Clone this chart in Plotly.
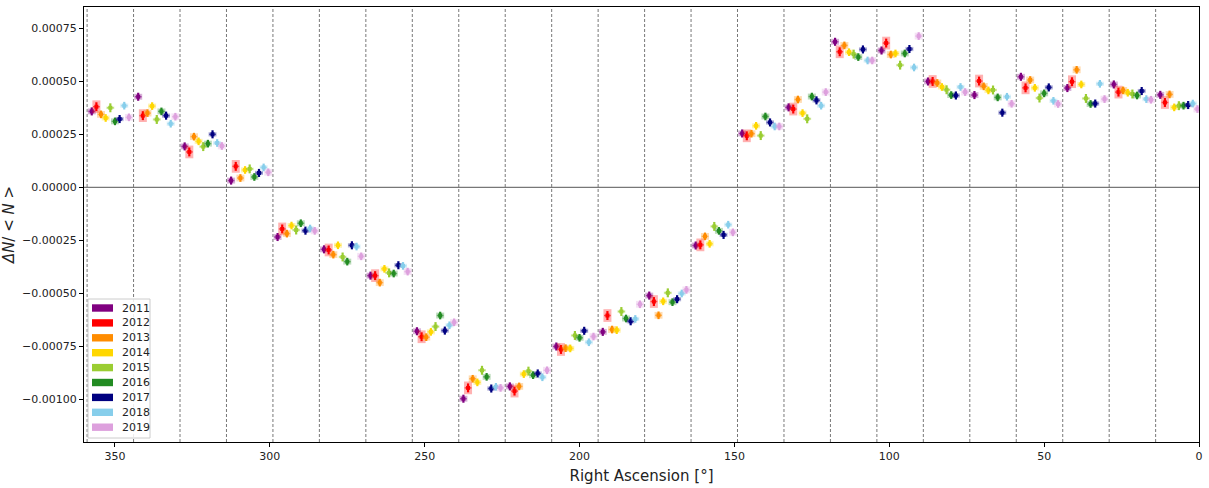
import plotly.graph_objects as go

# RA bin centres (deg) and year offsets inside each bin
ra_centers = [351.5 - 15 * i for i in range(24)]
year_shift = [6.0, 4.5, 3.0, 1.5, 0.0, -1.5, -3.0, -4.5, -6.0]
bin_edges = [359 - 15 * i for i in range(24)]

years = ['2011', '2012', '2013', '2014', '2015', '2016', '2017', '2018', '2019']
colors = ['#800080', '#ff0000', '#ff8c00', '#ffd700', '#9acd32',
          '#228b22', '#000080', '#87ceeb', '#dda0dd']

d2011 = [0.000358, 0.000427, 0.000193, 0.000032, -0.000234, -0.000292, -0.000416, -0.000678,
         -0.000996, -0.000938, -0.000750, -0.000681, -0.000510, -0.000274, 0.000254, 0.000377,
         0.000686, 0.000645, 0.000499, 0.000435, 0.000521, 0.000468, 0.000485, 0.000436]
d2012 = [0.000380, 0.000338, 0.000167, 0.000099, -0.000196, -0.000295, -0.000416, -0.000704,
         -0.000945, -0.000960, -0.000764, -0.000604, -0.000538, -0.000271, 0.000243, 0.000369,
         0.000639, 0.000680, 0.000499, 0.000501, 0.000469, 0.000498, 0.000449, 0.000400]
d2013 = [0.000344, 0.000350, 0.000239, 0.000044, -0.000218, -0.000317, -0.000449, -0.000706,
         -0.000902, -0.000938, -0.000758, -0.000670, -0.000603, -0.000231, 0.000253, 0.000414,
         0.000669, 0.000626, 0.000492, 0.000476, 0.000506, 0.000554, 0.000457, 0.000438]
d2014 = [0.000327, 0.000383, 0.000217, 0.000082, -0.000180, -0.000273, -0.000384, -0.000681,
         -0.000919, -0.000880, -0.000759, -0.000673, -0.000537, -0.000266, 0.000290, 0.000350,
         0.000637, 0.000631, 0.000473, 0.000457, 0.000469, 0.000485, 0.000446, 0.000377]
d2015 = [0.000375, 0.000320, 0.000192, 0.000087, -0.000201, -0.000328, -0.000403, -0.000656,
         -0.000862, -0.000866, -0.000698, -0.000585, -0.000497, -0.000184, 0.000244, 0.000323,
         0.000628, 0.000576, 0.000460, 0.000459, 0.000421, 0.000419, 0.000440, 0.000385]
d2016 = [0.000311, 0.000358, 0.000206, 0.000049, -0.000169, -0.000350, -0.000406, -0.000604,
         -0.000893, -0.000885, -0.000709, -0.000618, -0.000541, -0.000205, 0.000334, 0.000428,
         0.000614, 0.000631, 0.000435, 0.000424, 0.000443, 0.000393, 0.000433, 0.000385]
d2017 = [0.000322, 0.000338, 0.000250, 0.000068, -0.000204, -0.000273, -0.000367, -0.000675,
         -0.000948, -0.000877, -0.000676, -0.000631, -0.000527, -0.000224, 0.000306, 0.000410,
         0.000650, 0.000652, 0.000433, 0.000352, 0.000471, 0.000395, 0.000454, 0.000388]
d2018 = [0.000385, 0.000300, 0.000209, 0.000094, -0.000194, -0.000279, -0.000370, -0.000650,
         -0.000940, -0.000895, -0.000730, -0.000620, -0.000500, -0.000176, 0.000287, 0.000385,
         0.000598, 0.000565, 0.000473, 0.000427, 0.000408, 0.000488, 0.000416, 0.000395]
d2019 = [0.000330, 0.000333, 0.000195, 0.000071, -0.000205, -0.000325, -0.000397, -0.000636,
         -0.000945, -0.000862, -0.000703, -0.000551, -0.000483, -0.000212, 0.000287, 0.000449,
         0.000598, 0.000713, 0.000449, 0.000394, 0.000393, 0.000416, 0.000413, 0.000369]
series = [d2011, d2012, d2013, d2014, d2015, d2016, d2017, d2018, d2019]

# statistical error (bar) and systematic error (shaded box) per year
stat_err = [0.000019, 0.000021, 0.000018, 0.000018, 0.000021, 0.000018, 0.000019, 0.000018, 0.000018]
sys_err = [0.000014, 0.000030, 0.000016, 0.000012, 0.000006, 0.000014, 0.000010, 0.000010, 0.000016]
ra_err = 1.1

# plot area in pixels (used for the hand-made legend box)
L, R, T, B = 84, 1199, 7, 442


def px(x):
    return (x - L) / (R - L)


def py(y):
    return (B - y) / (B - T)


def rgba(h, a):
    h = h.lstrip('#')
    return 'rgba({},{},{},{})'.format(int(h[0:2], 16), int(h[2:4], 16), int(h[4:6], 16), a)


fig = go.Figure()

for i, yr in enumerate(years):
    xs = [c + year_shift[i] for c in ra_centers]
    # shaded box
    fig.add_trace(go.Scatter(
        x=xs, y=series[i], mode='markers', showlegend=False, hoverinfo='skip',
        marker=dict(size=1, opacity=0),
        error_y=dict(type='constant', value=sys_err[i], color=rgba(colors[i], 0.3),
                     thickness=8, width=0)))
    # point with error bars
    fig.add_trace(go.Scatter(
        x=xs, y=series[i], mode='markers', showlegend=False, name=yr,
        marker=dict(size=4, symbol='square', color=colors[i]),
        error_y=dict(type='constant', value=stat_err[i], color=colors[i], thickness=2.2, width=0),
        error_x=dict(type='constant', value=ra_err, color=rgba(colors[i], 0.6), thickness=1.5, width=0)))

for e in bin_edges:
    fig.add_vline(x=e, line=dict(color='#555555', width=0.8, dash='3px,2px'), layer='below')
fig.add_hline(y=0, line=dict(color='#777777', width=1.2), layer='below')

# legend box, drawn like the matplotlib one
fig.add_shape(type='rect', xref='paper', yref='paper',
              x0=px(88), x1=px(150), y0=py(438), y1=py(299),
              fillcolor='rgba(255,255,255,0.85)', line=dict(color='#cccccc', width=1))
for i, yr in enumerate(years):
    yc = 308 + 14.9 * i
    fig.add_shape(type='rect', xref='paper', yref='paper',
                  x0=px(92), x1=px(113), y0=py(yc + 3.7), y1=py(yc - 3.7),
                  fillcolor=colors[i], line=dict(width=0))
    fig.add_annotation(text=yr, xref='paper', yref='paper', x=px(120), y=py(yc),
                       xanchor='left', yanchor='middle', showarrow=False,
                       font=dict(size=11, color='#222222'))

fig.update_layout(
    width=1209, height=488,
    margin=dict(l=L, r=1209 - R, t=T, b=488 - B, autoexpand=False),
    plot_bgcolor='white', paper_bgcolor='white',
    font=dict(family='DejaVu Sans', size=11, color='#222222'),
    showlegend=False,
)
fig.update_xaxes(
    range=[360, -0.001], tickvals=[350, 300, 250, 200, 150, 100, 50, 0],
    automargin=False, ticklabeloverflow='allow',
    showline=True, linecolor='black', linewidth=1, mirror=True,
    ticks='outside', ticklen=4, tickcolor='black', showgrid=False, zeroline=False,
    title=dict(text='Right Ascension [°]', font=dict(size=15), standoff=8))
fig.update_yaxes(
    range=[-0.0012, 0.00085],
    tickvals=[-0.001, -0.00075, -0.0005, -0.00025, 0, 0.00025, 0.0005, 0.00075],
    tickformat='.5f', automargin=False,
    showline=True, linecolor='black', linewidth=1, mirror=True,
    ticks='outside', ticklen=4, tickcolor='black', showgrid=False, zeroline=False,
    title=dict(text='<i>ΔN</i>/ < <i>N</i> >', font=dict(size=15), standoff=8))

fig.write_html("out.html", config={'displayModeBar': False},
               post_script="document.body.style.margin='0';")
